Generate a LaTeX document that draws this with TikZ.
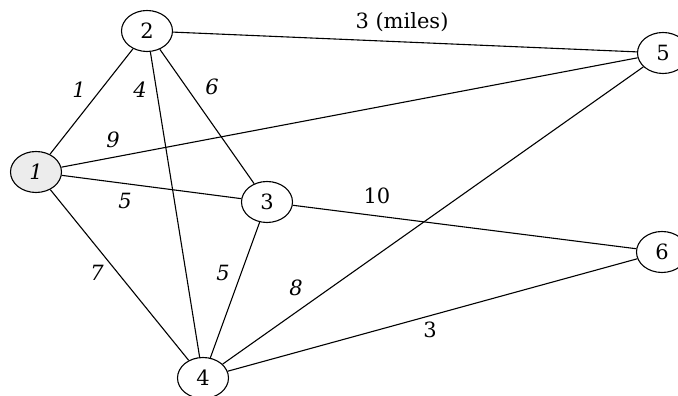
\documentclass[tikz,border=0pt]{standalone}
\usepackage{fontspec}
\setmainfont{DejaVu Serif}
\usetikzlibrary{shapes.geometric}

\begin{document}
\begin{tikzpicture}[-, x=1pt, y=1pt, line width=1.1pt,
	city/.style={ellipse, draw, inner sep=0pt, minimum width=51pt, minimum height=41pt, font=\fontsize{21}{21}\selectfont},
	dist/.style={inner sep=0pt, font=\fontsize{21}{21}\selectfont}]
	\useasboundingbox (0,0) rectangle (678,396);
	\node[city, fill=gray!15, font=\fontsize{21}{21}\selectfont\itshape] (n1) at (36,224) {1};
	\node[city] (n2) at (147,365) {2};
	\node[city] (n3) at (267,194) {3};
	\node[city] (n4) at (203,18) {4};
	\node[city] (n5) at (663,343) {5};
	\node[city] (n6) at (662,144) {6};
	
	\draw (n2) -- (n5);
	\draw (n2) -- (n1);
	\draw (n2) -- (n4);
	\draw (n2) -- (n3);
	\draw (n1) -- (n5);
	\draw (n1) -- (n3);
	\draw (n1) -- (n4);
	\draw (n3) -- (n4);
	\draw (n3) -- (n6);
	\draw (n4) -- (n5);
	\draw (n4) -- (n6);
	
	\node[dist] (d25) at (402,374) {3 (miles)};
	\node[dist, font=\fontsize{21}{21}\selectfont\itshape] (d12) at (79,306) {1};
	\node[dist, font=\fontsize{21}{21}\selectfont\itshape] (d24) at (140,306) {4};
	\node[dist, font=\fontsize{21}{21}\selectfont\itshape] (d23) at (212,309) {6};
	\node[dist, font=\fontsize{21}{21}\selectfont\itshape] (d15) at (113,256) {9};
	\node[dist, font=\fontsize{21}{21}\selectfont\itshape] (d13) at (125,195) {5};
	\node[dist] (d36) at (377,200) {10};
	\node[dist, font=\fontsize{21}{21}\selectfont\itshape] (d14) at (97,123) {7};
	\node[dist, font=\fontsize{21}{21}\selectfont\itshape] (d34) at (223,123) {5};
	\node[dist, font=\fontsize{21}{21}\selectfont\itshape] (d45) at (296,108) {8};
	\node[dist] (d46) at (430,66) {3};
\end{tikzpicture}
\end{document}
